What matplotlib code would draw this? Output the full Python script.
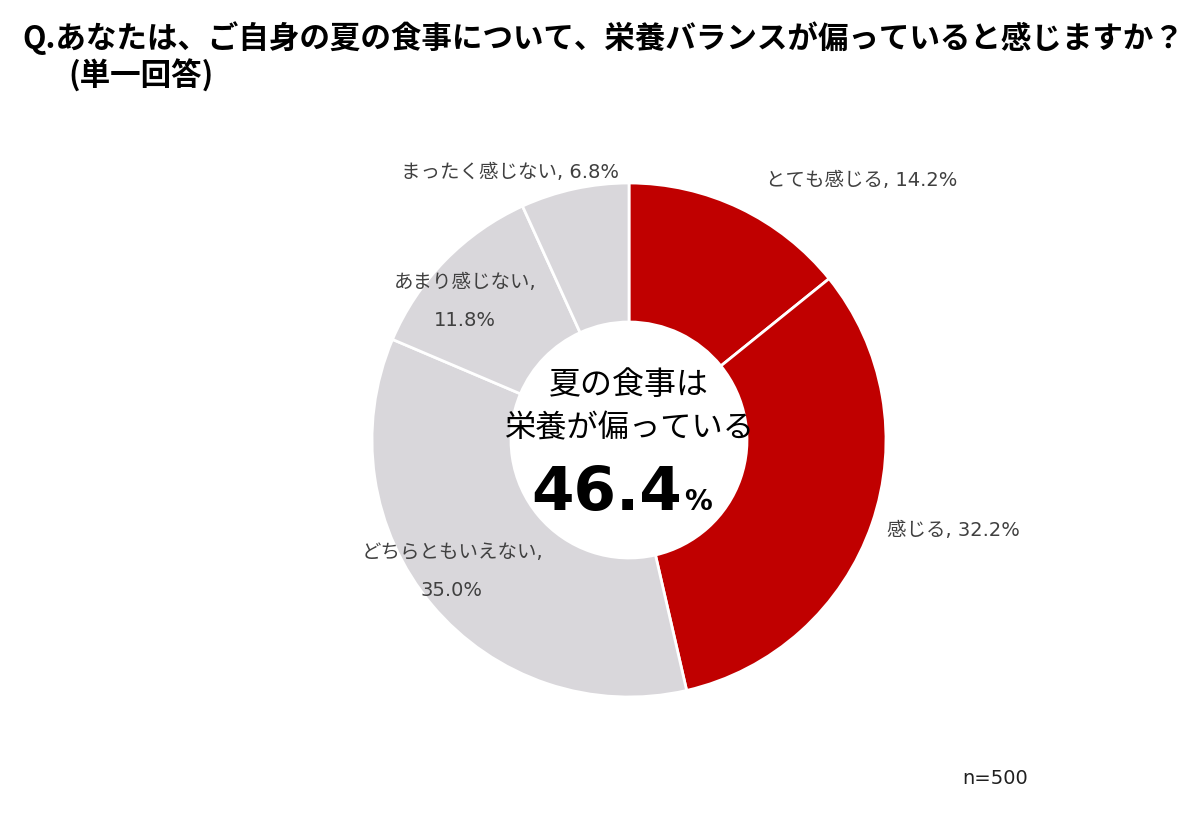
import matplotlib
matplotlib.use('Agg')
import matplotlib.pyplot as plt

plt.rcParams['font.family'] = ['Noto Sans CJK JP', 'DejaVu Sans']

# survey answers, clockwise from 12 o'clock
labels = ['とても感じる', '感じる', 'どちらともいえない', 'あまり感じない', 'まったく感じない']
values = [14.2, 32.2, 35.0, 11.8, 6.8]
colors = ['#C00000', '#C00000', '#D9D7DB', '#D9D7DB', '#D9D7DB']
total_feel = 46.4
n_resp = 500

W, H = 1200, 814
fig = plt.figure(figsize=(W / 100, H / 100), dpi=100)
ax = fig.add_axes([0, 0, 1, 1])

cx, cy = 629, H - 440
r_out, r_in = 257, 118
ax.pie(values, colors=colors, startangle=90, counterclock=False,
       radius=r_out, center=(cx, cy), frame=True,
       wedgeprops=dict(width=r_out - r_in, edgecolor='white', linewidth=2))
ax.set_xlim(0, W)
ax.set_ylim(0, H)
ax.set_aspect('equal')
ax.axis('off')

lab_color = '#404040'
fs = 14
lab_font = ['DejaVu Sans', 'Noto Sans CJK JP']
# label positions (pixel coords from top-left) for each slice
def lab(x, y, s):
    ax.text(x, H - y, s, fontsize=fs, color=lab_color, ha='center', va='center',
            family=lab_font)

lab(862, 181, f'{labels[0]}, {values[0]}%')
lab(953, 530, f'{labels[1]}, {values[1]}%')
lab(452, 553, f'{labels[2]},')
lab(452, 591, f'{values[2]:.1f}%')
lab(465, 282, f'{labels[3]},')
lab(465, 321, f'{values[3]}%')
lab(510, 172, f'{labels[4]}, {values[4]}%')

# centre text
ax.text(cx, H - 385, '夏の食事は', fontsize=23, color='black', ha='center', va='center')
ax.text(cx, H - 428, '栄養が偏っている', fontsize=22.5, color='black', ha='center', va='center')
ax.text(682, H - 510, f'{total_feel}', fontsize=44, fontweight='bold', color='black',
        ha='right', va='baseline', family='DejaVu Sans')
ax.text(684, H - 510, '%', fontsize=20, fontweight='bold', color='black',
        ha='left', va='baseline', family='DejaVu Sans')

# title
ax.text(22, H - 38, 'Q.あなたは、ご自身の夏の食事について、栄養バランスが偏っていると感じますか？',
        fontsize=22, fontweight='bold', ha='left', va='center')
ax.text(68, H - 76, '(単一回答)', fontsize=22, fontweight='bold', ha='left', va='center')

ax.text(995, H - 779, f'n={n_resp}', fontsize=14, color='#202020', ha='center', va='center',
        family='DejaVu Sans')

fig.savefig('out.png', dpi=100)
